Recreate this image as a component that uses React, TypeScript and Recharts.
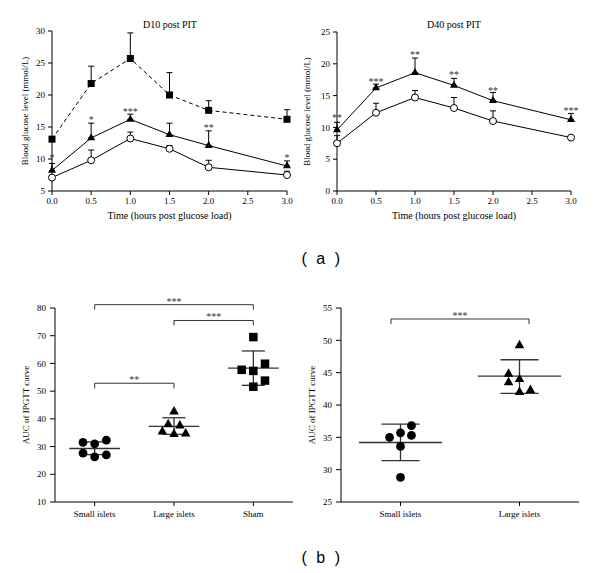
import React from "react";
import {
  ComposedChart,
  Line,
  ErrorBar,
  Scatter,
  XAxis,
  YAxis,
  ReferenceLine,
} from "recharts";

const SERIF = '"Liberation Serif", "Times New Roman", serif';
const SANS = '"Liberation Sans", Arial, sans-serif';
const INK = "#000";
const GREY = "#333";

// ---- (a) IPGTT time courses ----
const times = [0, 0.5, 1, 1.5, 2, 3];
const timeTicks = [0, 0.5, 1, 1.5, 2, 2.5, 3];

const d10Sham = [13.1, 21.8, 25.7, 20.0, 17.6, 16.2];
const d10ShamErr = [0, 2.7, 4.0, 3.5, 1.5, 1.5];
const d10Large = [8.2, 13.3, 16.2, 13.8, 12.1, 8.9];
const d10LargeErr = [1.1, 2.3, 0.8, 1.8, 2.3, 0.8];
const d10Small = [7.1, 9.8, 13.2, 11.6, 8.7, 7.5];
const d10SmallErr = [0, 1.6, 1.0, 0.5, 1.1, 0.6];
const d10StarTimes = [0, 0.5, 1, 2, 3];
const d10StarLevels = [10.4, 16.3, 17.6, 15.1, 10.4];
const d10StarLabels = ["*", "*", "***", "**", "*"];

const d40Large = [9.6, 16.2, 18.6, 16.6, 14.2, 11.2];
const d40LargeErr = [1.2, 0.6, 2.3, 1.1, 1.3, 1.0];
const d40Small = [7.5, 12.3, 14.7, 13.05, 11.0, 8.4];
const d40SmallErr = [1.2, 1.5, 1.1, 1.65, 1.6, 0.3];
const d40StarTimes = [0, 0.5, 1, 1.5, 2, 3];
const d40StarLevels = [11.7, 17.4, 21.6, 18.5, 16.05, 12.8];
const d40StarLabels = ["**", "***", "**", "**", "**", "***"];

const d10Data = times.map((t, i) => ({
  t,
  sham: d10Sham[i],
  shamErr: [0, d10ShamErr[i]],
  large: d10Large[i],
  largeErr: [0, d10LargeErr[i]],
  small: d10Small[i],
  smallErr: [0, d10SmallErr[i]],
}));

const d40Data = times.map((t, i) => ({
  t,
  large: d40Large[i],
  largeErr: [0, d40LargeErr[i]],
  small: d40Small[i],
  smallErr: [0, d40SmallErr[i]],
}));

const d10Stars = d10StarTimes.map((t, i) => ({ t, y: d10StarLevels[i], label: d10StarLabels[i] }));
const d40Stars = d40StarTimes.map((t, i) => ({ t, y: d40StarLevels[i], label: d40StarLabels[i] }));

// ---- (b) AUC scatter ----
const groups3 = ["Small islets", "Large islets", "Sham"];
const b1Small = [31.5, 31.0, 32.3, 27.6, 26.3, 27.0];
const b1SmallSlots = [-1, 0, 1, -1, 0, 1];
const b1Large = [42.6, 38.0, 37.5, 35.4, 34.5, 34.7];
const b1LargeSlots = [0, -0.5, 0.5, -1, 0, 1];
const b1Sham = [69.5, 57.7, 57.3, 59.9, 53.8, 51.6];
const b1ShamSlots = [0, -1, 0, 1, 1, 0];
const b1Means = [29.3, 37.3, 58.3];
const b1SdLow = [27.1, 34.4, 52.1];
const b1SdHigh = [31.7, 40.4, 64.5];
const b1Brackets = [
  { from: 1, to: 2, level: 52.85, foot: 51.0, label: "**" },
  { from: 1, to: 3, level: 81.2, foot: 79.4, label: "***" },
  { from: 2, to: 3, level: 75.5, foot: 73.7, label: "***" },
];

const groups2 = ["Small islets", "Large islets"];
const b2Small = [35.0, 35.7, 36.8, 33.6, 35.3, 28.8];
const b2SmallSlots = [-1, 0, 1, 0, 1, 0];
const b2Large = [49.2, 44.8, 43.5, 44.0, 42.0, 42.3];
const b2LargeSlots = [0, -1, -1, 0, 0, 1];
const b2Means = [34.2, 44.45];
const b2SdLow = [31.4, 41.8];
const b2SdHigh = [37.05, 47.0];
const b2Brackets = [{ from: 1, to: 2, level: 53.3, foot: 52.5, label: "***" }];

// ---- marker shapes ----
function Square({ cx, cy, s }: { cx: number; cy: number; s: number }) {
  return <rect x={cx - s / 2} y={cy - s / 2} width={s} height={s} fill={INK} />;
}

function Triangle({ cx, cy, w, h }: { cx: number; cy: number; w: number; h: number }) {
  const pts = `${cx},${cy - (2 * h) / 3} ${cx - w / 2},${cy + h / 3} ${cx + w / 2},${cy + h / 3}`;
  return <polygon points={pts} fill={INK} />;
}

function Circle({ cx, cy, r, open }: { cx: number; cy: number; r: number; open?: boolean }) {
  return (
    <circle
      cx={cx}
      cy={cy}
      r={r}
      fill={open ? "#fff" : INK}
      stroke={INK}
      strokeWidth={open ? 1 : 0}
    />
  );
}

const starShape = (p: any) => (
  <text
    x={p.cx}
    y={p.cy + 4.7}
    textAnchor="middle"
    fontSize={10}
    fontFamily={SERIF}
    fill={GREY}
  >
    {p.payload.label}
  </text>
);

const tickStyle = { fontSize: 9, fill: INK, fontFamily: SERIF };

function TimeCourse({
  data,
  stars,
  domain,
  ticks,
  yWidth,
  labelDx,
  withSham,
}: {
  data: any[];
  stars: any[];
  domain: [number, number];
  ticks: number[];
  yWidth: number;
  labelDx: number;
  withSham: boolean;
}) {
  return (
    <ComposedChart
      width={300}
      height={221}
      data={data}
      margin={{ top: withSham ? 31 : 32, right: withSham ? 13 : 19, left: 0, bottom: 0 }}
    >
      <XAxis
        type="number"
        dataKey="t"
        domain={[0, 3]}
        ticks={timeTicks}
        tickFormatter={(v: number) => v.toFixed(1)}
        height={30}
        tick={tickStyle}
        tickSize={4}
        tickMargin={3}
        stroke={INK}
        label={{
          value: "Time (hours post glucose load)",
          position: "insideBottom",
          offset: 2,
          fontSize: 10,
          fill: INK,
          fontFamily: SERIF,
        }}
      />
      <YAxis
        type="number"
        domain={domain}
        ticks={ticks}
        width={yWidth}
        tick={tickStyle}
        tickSize={4}
        tickMargin={3}
        stroke={INK}
        label={{
          value: "Blood glucose level (mmol/L)",
          angle: -90,
          position: "center",
          dx: labelDx,
          fontSize: 9,
          fill: INK,
          fontFamily: SERIF,
        }}
      />
      {withSham && (
        <Line
          dataKey="sham"
          stroke={INK}
          strokeWidth={1}
          strokeDasharray="4 3"
          isAnimationActive={false}
          activeDot={false}
          dot={(p: any) => <Square key={`sq${p.index}`} cx={p.cx} cy={p.cy} s={7} />}
        >
          <ErrorBar dataKey="shamErr" direction="y" width={3} stroke={INK} strokeWidth={1} />
        </Line>
      )}
      <Line
        dataKey="small"
        stroke={INK}
        strokeWidth={1}
        isAnimationActive={false}
        activeDot={false}
        dot={(p: any) => <Circle key={`c${p.index}`} cx={p.cx} cy={p.cy} r={3.5} open />}
      >
        <ErrorBar dataKey="smallErr" direction="y" width={3} stroke={INK} strokeWidth={1} />
      </Line>
      <Line
        dataKey="large"
        stroke={INK}
        strokeWidth={1}
        isAnimationActive={false}
        activeDot={false}
        dot={(p: any) => <Triangle key={`t${p.index}`} cx={p.cx} cy={p.cy} w={8} h={7} />}
      >
        <ErrorBar dataKey="largeErr" direction="y" width={3} stroke={INK} strokeWidth={1} />
      </Line>
      <Scatter data={stars} dataKey="y" isAnimationActive={false} shape={starShape} />
    </ComposedChart>
  );
}

function toPoints(values: number[], slots: number[], group: number, jitter: number) {
  return values.map((v, i) => ({ x: group + slots[i] * jitter, y: v }));
}

function summarySegments(
  means: number[],
  lows: number[],
  highs: number[],
  meanHalf: number,
  capHalf: number
) {
  const segs: { x1: number; y1: number; x2: number; y2: number }[] = [];
  means.forEach((m, i) => {
    const g = i + 1;
    segs.push({ x1: g - meanHalf, y1: m, x2: g + meanHalf, y2: m });
    segs.push({ x1: g, y1: lows[i], x2: g, y2: highs[i] });
    segs.push({ x1: g - capHalf, y1: lows[i], x2: g + capHalf, y2: lows[i] });
    segs.push({ x1: g - capHalf, y1: highs[i], x2: g + capHalf, y2: highs[i] });
  });
  return segs;
}

function AucPanel({
  names,
  series,
  means,
  lows,
  highs,
  brackets,
  domain,
  ticks,
  yWidth,
  rightMargin,
  labelDx,
  meanHalf,
  capHalf,
  bracketPad,
}: {
  names: string[];
  series: { points: { x: number; y: number }[]; kind: string }[];
  means: number[];
  lows: number[];
  highs: number[];
  brackets: { from: number; to: number; level: number; foot: number; label: string }[];
  domain: [number, number];
  ticks: number[];
  yWidth: number;
  rightMargin: number;
  labelDx: number;
  meanHalf: number;
  capHalf: number;
  bracketPad: number;
}) {
  const segs = summarySegments(means, lows, highs, meanHalf, capHalf);
  const xTicks = names.map((_, i) => i + 1);
  return (
    <ComposedChart
      width={300}
      height={247}
      margin={{ top: 28, right: rightMargin, left: 0, bottom: 0 }}
    >
      <XAxis
        type="number"
        dataKey="x"
        domain={[0.5, names.length + 0.5]}
        ticks={xTicks}
        tickFormatter={(v: number) => names[Math.round(v) - 1]}
        height={25}
        tick={tickStyle}
        tickSize={4}
        tickMargin={5}
        stroke={INK}
      />
      <YAxis
        type="number"
        dataKey="y"
        domain={domain}
        ticks={ticks}
        width={yWidth}
        tick={tickStyle}
        tickSize={5}
        tickMargin={4}
        stroke={INK}
        label={{
          value: "AUC of IPGTT curve",
          angle: -90,
          position: "center",
          dx: labelDx,
          fontSize: 9,
          fill: INK,
          fontFamily: SERIF,
        }}
      />
      {series.map((s, k) => (
        <Scatter
          key={k}
          data={s.points}
          isAnimationActive={false}
          shape={(p: any) =>
            s.kind === "circle" ? (
              <Circle cx={p.cx} cy={p.cy} r={4.4} />
            ) : s.kind === "triangle" ? (
              <Triangle cx={p.cx} cy={p.cy} w={9.5} h={8.5} />
            ) : (
              <Square cx={p.cx} cy={p.cy} s={8.5} />
            )
          }
        />
      ))}
      {segs.map((s, i) => (
        <ReferenceLine
          key={`m${i}`}
          segment={[
            { x: s.x1, y: s.y1 },
            { x: s.x2, y: s.y2 },
          ]}
          stroke={GREY}
          strokeWidth={1.3}
          ifOverflow="visible"
        />
      ))}
      {brackets.map((b, i) => (
        <ReferenceLine
          key={`bh${i}`}
          segment={[
            { x: b.from - bracketPad, y: b.level },
            { x: b.to + bracketPad, y: b.level },
          ]}
          stroke={GREY}
          strokeWidth={1}
          ifOverflow="visible"
          label={{
            value: b.label,
            position: "top",
            offset: 0,
            fontSize: 10,
            fill: GREY,
            fontFamily: SERIF,
          }}
        />
      ))}
      {brackets.map((b, i) => (
        <ReferenceLine
          key={`bl${i}`}
          segment={[
            { x: b.from - bracketPad, y: b.level },
            { x: b.from - bracketPad, y: b.foot },
          ]}
          stroke={GREY}
          strokeWidth={1}
          ifOverflow="visible"
        />
      ))}
      {brackets.map((b, i) => (
        <ReferenceLine
          key={`br${i}`}
          segment={[
            { x: b.to + bracketPad, y: b.level },
            { x: b.to + bracketPad, y: b.foot },
          ]}
          stroke={GREY}
          strokeWidth={1}
          ifOverflow="visible"
        />
      ))}
    </ComposedChart>
  );
}

const title = (text: string, cx: number, cy: number, size: number, font: string, spacing = 0) => (
  <div
    style={{
      position: "absolute",
      left: cx - 100,
      top: cy - 8,
      width: 200,
      height: 16,
      lineHeight: "16px",
      textAlign: "center",
      fontSize: size,
      fontFamily: font,
      letterSpacing: spacing,
      color: INK,
      whiteSpace: "pre",
    }}
  >
    {text}
  </div>
);

export default function App() {
  return (
    <div
      style={{
        position: "absolute",
        left: 0,
        top: 0,
        width: 600,
        height: 573,
        background: "#fff",
        overflow: "hidden",
        fontFamily: SERIF,
      }}
    >
      <div style={{ position: "absolute", left: 0, top: 0 }}>
        <TimeCourse
          data={d10Data}
          stars={d10Stars}
          domain={[5, 30]}
          ticks={[5, 10, 15, 20, 25, 30]}
          yWidth={52}
          labelDx={-1}
          withSham
        />
      </div>
      <div style={{ position: "absolute", left: 290, top: 0 }}>
        <TimeCourse
          data={d40Data}
          stars={d40Stars}
          domain={[0, 25]}
          ticks={[0, 5, 10, 15, 20, 25]}
          yWidth={47}
          labelDx={-7}
          withSham={false}
        />
      </div>
      {title("D10 post PIT", 170, 25, 10, SERIF)}
      {title("D40 post PIT", 454, 25, 10, SERIF)}
      {title("( a )", 322, 259, 16, SANS, 2.5)}

      <div style={{ position: "absolute", left: 0, top: 280 }}>
        <AucPanel
          names={groups3}
          series={[
            { points: toPoints(b1Small, b1SmallSlots, 1, 0.147), kind: "circle" },
            { points: toPoints(b1Large, b1LargeSlots, 2, 0.147), kind: "triangle" },
            { points: toPoints(b1Sham, b1ShamSlots, 3, 0.147), kind: "square" },
          ]}
          means={b1Means}
          lows={b1SdLow}
          highs={b1SdHigh}
          brackets={b1Brackets}
          domain={[10, 80]}
          ticks={[10, 20, 30, 40, 50, 60, 70, 80]}
          yWidth={55}
          rightMargin={7}
          labelDx={-2}
          meanHalf={0.32}
          capHalf={0.145}
          bracketPad={0}
        />
      </div>
      <div style={{ position: "absolute", left: 300, top: 280 }}>
        <AucPanel
          names={groups2}
          series={[
            { points: toPoints(b2Small, b2SmallSlots, 1, 0.092), kind: "circle" },
            { points: toPoints(b2Large, b2LargeSlots, 2, 0.092), kind: "triangle" },
          ]}
          means={b2Means}
          lows={b2SdLow}
          highs={b2SdHigh}
          brackets={b2Brackets}
          domain={[25, 55]}
          ticks={[25, 30, 35, 40, 45, 50, 55]}
          yWidth={41}
          rightMargin={21}
          labelDx={-9}
          meanHalf={0.35}
          capHalf={0.16}
          bracketPad={0.08}
        />
      </div>
      {title("( b )", 322, 558, 16, SANS, 2.5)}
    </div>
  );
}
